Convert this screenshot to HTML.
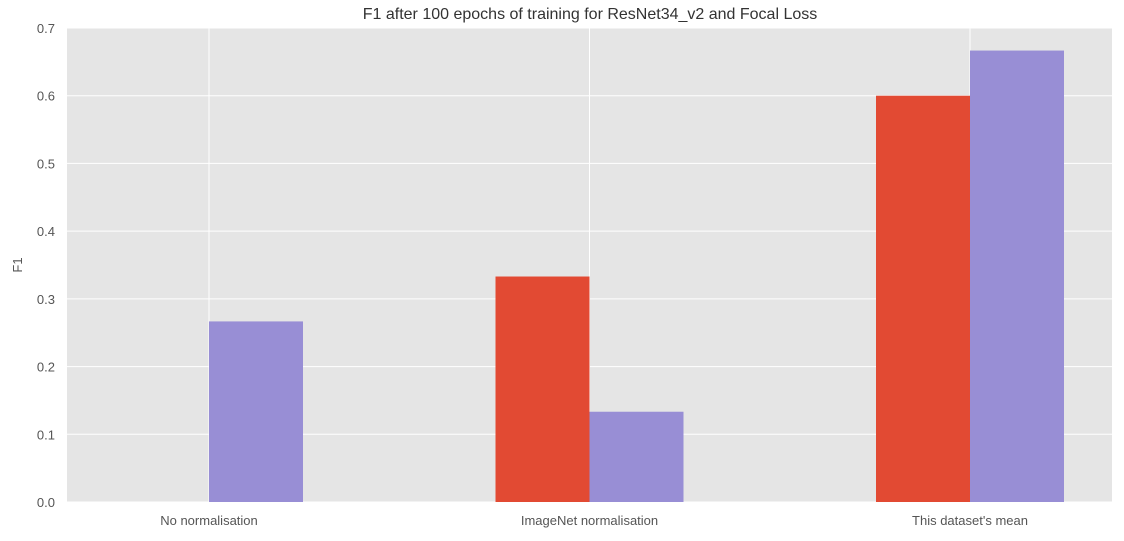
<!DOCTYPE html>
<html><head><meta charset="utf-8"><style>
body{margin:0;background:#fff;width:1124px;height:536px;overflow:hidden;font-family:"Liberation Sans","DejaVu Sans",sans-serif}
</style></head><body>
<svg width="1124" height="536" id="chart">
<text x="590" y="19" text-anchor="middle" font-size="16" fill="#333">F1 after 100 epochs of training for ResNet34_v2 and Focal Loss</text>
<rect x="67" y="28" width="1045" height="474" fill="#e5e5e5"/>
<g id="grid"></g><g id="bars"></g><g id="ticks"></g>
<text x="22" y="265" transform="rotate(-90 22 265)" text-anchor="middle" font-size="13" fill="#555">F1</text>
</svg>
<script>
const categories=["No normalisation","ImageNet normalisation","This dataset's mean"];
const seriesRed=[0,0.333,0.6];
const seriesPurple=[0.2667,0.1333,0.6667];
const yTicks=[0,0.1,0.2,0.3,0.4,0.5,0.6,0.7];
const ns="http://www.w3.org/2000/svg";
const y=v=>502-v/0.7*474;
const xc=i=>209+i*380.5;
const bw=94;
function mk(tag,attrs,parent){const e=document.createElementNS(ns,tag);for(const k in attrs)e.setAttribute(k,attrs[k]);document.getElementById(parent).appendChild(e);return e;}
yTicks.forEach(t=>{
 const l=mk('line',{x1:67,x2:1112,y1:y(t),y2:y(t),stroke:'#fff','stroke-width':1},'grid');
 
 
 const tx=mk('text',{x:55,y:y(t)+5,'text-anchor':'end','font-size':13,fill:'#555'},'ticks');
 tx.textContent=t.toFixed(1);
 
 
});
categories.forEach((c,i)=>{
 const l=mk('line',{x1:xc(i),x2:xc(i),y1:28,y2:502,stroke:'#fff','stroke-width':1},'grid');
 
 
 const r=mk('rect',{x:xc(i)-bw,y:y(seriesRed[i]),width:bw,height:502-y(seriesRed[i]),fill:'#e24a33'},'bars');
 
 
 const p=mk('rect',{x:xc(i),y:y(seriesPurple[i]),width:bw,height:502-y(seriesPurple[i]),fill:'#988ed5'},'bars');
 
 
 const tx=mk('text',{x:xc(i),y:525,'text-anchor':'middle','font-size':13,fill:'#555'},'ticks');
 tx.textContent=c;
 
 
});
</script>
</body></html>
